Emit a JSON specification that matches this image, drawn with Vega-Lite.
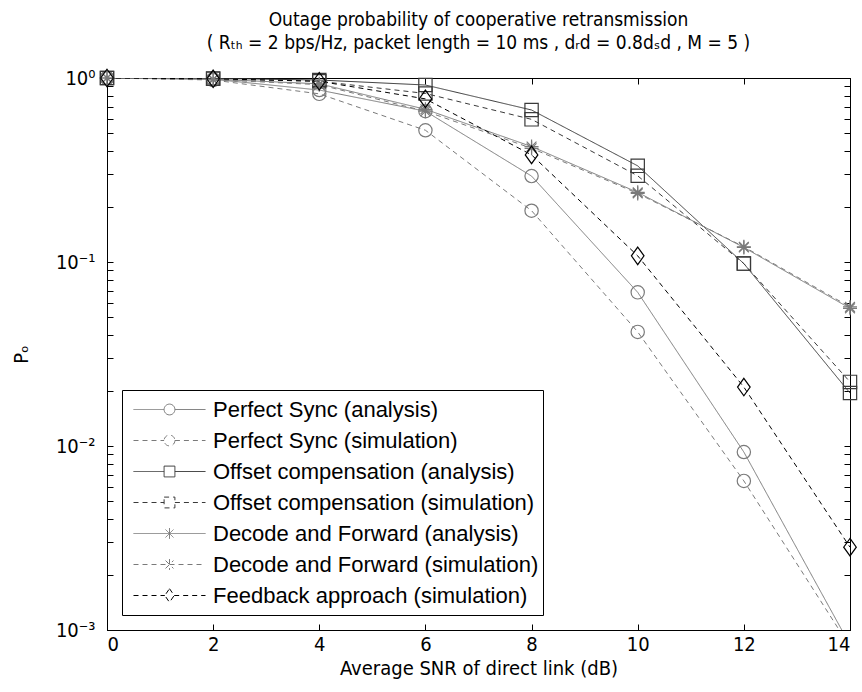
{
  "$schema": "https://vega.github.io/schema/vega-lite/v6.json",
  "width": 743,
  "height": 552,
  "autosize": "none",
  "padding": {"left": 107, "top": 78, "right": 12, "bottom": 62},
  "background": "white",
  "config": {
    "view": {"stroke": "black", "strokeWidth": 1},
    "font": "Liberation Sans Narrow, DejaVu Sans Condensed, Liberation Sans",
    "axis": {
      "grid": false,
      "domainColor": "black",
      "tickColor": "black",
      "labelColor": "black",
      "titleColor": "black",
      "labelFont": "Liberation Sans Narrow, DejaVu Sans Condensed, Liberation Sans",
      "titleFont": "Liberation Sans Narrow, DejaVu Sans Condensed, Liberation Sans",
      "labelFontSize": 20,
      "titleFontSize": 20,
      "titleFontWeight": "normal",
      "tickSize": -6,
      "tickWidth": 1
    }
  },
  "title": {
    "text": [
      "Outage probability of cooperative retransmission",
      "( Rₜₕ = 2 bps/Hz, packet length = 10 ms , dᵣd = 0.8dₛd , M = 5 )"
    ],
    "font": "Liberation Sans Narrow, DejaVu Sans Condensed, Liberation Sans",
    "fontSize": 19,
    "fontWeight": "normal",
    "color": "black",
    "lineHeight": 23,
    "offset": 14,
    "anchor": "middle"
  },
  "data": {
    "values": [
      {"snr": 0, "po": 1.0, "series": "Perfect Sync (analysis)"},
      {"snr": 2, "po": 0.985, "series": "Perfect Sync (analysis)"},
      {"snr": 4, "po": 0.86, "series": "Perfect Sync (analysis)"},
      {"snr": 6, "po": 0.66, "series": "Perfect Sync (analysis)"},
      {"snr": 8, "po": 0.293, "series": "Perfect Sync (analysis)"},
      {"snr": 10, "po": 0.0684, "series": "Perfect Sync (analysis)"},
      {"snr": 12, "po": 0.00927, "series": "Perfect Sync (analysis)"},
      {"snr": 14, "po": 0.00083, "series": "Perfect Sync (analysis)"},
      {"snr": 0, "po": 1.0, "series": "Perfect Sync (simulation)"},
      {"snr": 2, "po": 0.975, "series": "Perfect Sync (simulation)"},
      {"snr": 4, "po": 0.82, "series": "Perfect Sync (simulation)"},
      {"snr": 6, "po": 0.52, "series": "Perfect Sync (simulation)"},
      {"snr": 8, "po": 0.19, "series": "Perfect Sync (simulation)"},
      {"snr": 10, "po": 0.0417, "series": "Perfect Sync (simulation)"},
      {"snr": 12, "po": 0.00646, "series": "Perfect Sync (simulation)"},
      {"snr": 14, "po": 0.00081, "series": "Perfect Sync (simulation)"},
      {"snr": 0, "po": 1.0, "series": "Offset compensation (analysis)"},
      {"snr": 2, "po": 0.995, "series": "Offset compensation (analysis)"},
      {"snr": 4, "po": 0.975, "series": "Offset compensation (analysis)"},
      {"snr": 6, "po": 0.916, "series": "Offset compensation (analysis)"},
      {"snr": 8, "po": 0.67, "series": "Offset compensation (analysis)"},
      {"snr": 10, "po": 0.333, "series": "Offset compensation (analysis)"},
      {"snr": 12, "po": 0.098, "series": "Offset compensation (analysis)"},
      {"snr": 14, "po": 0.0194, "series": "Offset compensation (analysis)"},
      {"snr": 0, "po": 1.0, "series": "Offset compensation (simulation)"},
      {"snr": 2, "po": 0.99, "series": "Offset compensation (simulation)"},
      {"snr": 4, "po": 0.96, "series": "Offset compensation (simulation)"},
      {"snr": 6, "po": 0.824, "series": "Offset compensation (simulation)"},
      {"snr": 8, "po": 0.596, "series": "Offset compensation (simulation)"},
      {"snr": 10, "po": 0.294, "series": "Offset compensation (simulation)"},
      {"snr": 12, "po": 0.098, "series": "Offset compensation (simulation)"},
      {"snr": 14, "po": 0.0223, "series": "Offset compensation (simulation)"},
      {"snr": 0, "po": 1.0, "series": "Decode and Forward (analysis)"},
      {"snr": 2, "po": 0.985, "series": "Decode and Forward (analysis)"},
      {"snr": 4, "po": 0.93, "series": "Decode and Forward (analysis)"},
      {"snr": 6, "po": 0.676, "series": "Decode and Forward (analysis)"},
      {"snr": 8, "po": 0.424, "series": "Decode and Forward (analysis)"},
      {"snr": 10, "po": 0.239, "series": "Decode and Forward (analysis)"},
      {"snr": 12, "po": 0.12, "series": "Decode and Forward (analysis)"},
      {"snr": 14, "po": 0.056, "series": "Decode and Forward (analysis)"},
      {"snr": 0, "po": 1.0, "series": "Decode and Forward (simulation)"},
      {"snr": 2, "po": 0.98, "series": "Decode and Forward (simulation)"},
      {"snr": 4, "po": 0.92, "series": "Decode and Forward (simulation)"},
      {"snr": 6, "po": 0.66, "series": "Decode and Forward (simulation)"},
      {"snr": 8, "po": 0.415, "series": "Decode and Forward (simulation)"},
      {"snr": 10, "po": 0.236, "series": "Decode and Forward (simulation)"},
      {"snr": 12, "po": 0.121, "series": "Decode and Forward (simulation)"},
      {"snr": 14, "po": 0.057, "series": "Decode and Forward (simulation)"},
      {"snr": 0, "po": 1.0, "series": "Feedback approach (simulation)"},
      {"snr": 2, "po": 0.99, "series": "Feedback approach (simulation)"},
      {"snr": 4, "po": 0.96, "series": "Feedback approach (simulation)"},
      {"snr": 6, "po": 0.77, "series": "Feedback approach (simulation)"},
      {"snr": 8, "po": 0.382, "series": "Feedback approach (simulation)"},
      {"snr": 10, "po": 0.108, "series": "Feedback approach (simulation)"},
      {"snr": 12, "po": 0.0209, "series": "Feedback approach (simulation)"},
      {"snr": 14, "po": 0.00282, "series": "Feedback approach (simulation)"}
    ]
  },
  "layer": [
    {
      "mark": {"type": "line", "clip": true, "strokeWidth": 1},
      "encoding": {
        "x": {
          "field": "snr", "type": "quantitative",
          "scale": {"domain": [0, 14], "nice": false},
          "axis": {"orient": "bottom", "values": [0, 2, 4, 6, 8, 10, 12, 14], "title": "Average SNR of direct link (dB)", "labelPadding": 10, "titlePadding": 4}
        },
        "y": {
          "field": "po", "type": "quantitative",
          "scale": {"type": "log", "domain": [0.001, 1], "nice": false},
          "axis": {
            "orient": "left",
            "values": [0.001, 0.002, 0.003, 0.004, 0.005, 0.006, 0.007, 0.008, 0.009, 0.01, 0.02, 0.03, 0.04, 0.05, 0.06, 0.07, 0.08, 0.09, 0.1, 0.2, 0.3, 0.4, 0.5, 0.6, 0.7, 0.8, 0.9, 1],
            "labelExpr": "datum.value == 1 ? '10⁰' : datum.value == 0.1 ? '10⁻¹' : datum.value == 0.01 ? '10⁻²' : datum.value == 0.001 ? '10⁻³' : ''",
            "labelOverlap": false,
            "labelPadding": 18,
            "title": "Pₒ",
            "titlePadding": 24
          }
        },
        "color": {
          "field": "series", "type": "nominal",
          "scale": {
            "domain": ["Perfect Sync (analysis)", "Perfect Sync (simulation)", "Offset compensation (analysis)", "Offset compensation (simulation)", "Decode and Forward (analysis)", "Decode and Forward (simulation)", "Feedback approach (simulation)"],
            "range": ["#7a7a7a", "#7a7a7a", "#3a3a3a", "#3a3a3a", "#7a7a7a", "#7a7a7a", "#000000"]
          },
          "legend": null
        },
        "strokeDash": {
          "field": "series", "type": "nominal",
          "scale": {
            "domain": ["Perfect Sync (analysis)", "Perfect Sync (simulation)", "Offset compensation (analysis)", "Offset compensation (simulation)", "Decode and Forward (analysis)", "Decode and Forward (simulation)", "Feedback approach (simulation)"],
            "range": [[1, 0], [5, 4], [1, 0], [5, 4], [1, 0], [5, 4], [5, 4]]
          },
          "legend": null
        }
      }
    },
    {
      "transform": [{"filter": "datum.po >= 0.001"}],
      "mark": {"type": "point", "clip": false, "filled": false, "size": 196, "strokeWidth": 1.2, "opacity": 1},
      "encoding": {
        "x": {"field": "snr", "type": "quantitative", "axis": {"orient": "top", "values": [0, 2, 4, 6, 8, 10, 12, 14], "labels": false, "title": null}},
        "y": {
          "field": "po", "type": "quantitative",
          "axis": {"orient": "right", "values": [0.001, 0.002, 0.003, 0.004, 0.005, 0.006, 0.007, 0.008, 0.009, 0.01, 0.02, 0.03, 0.04, 0.05, 0.06, 0.07, 0.08, 0.09, 0.1, 0.2, 0.3, 0.4, 0.5, 0.6, 0.7, 0.8, 0.9, 1], "labels": false, "title": null}
        },
        "color": {
          "field": "series", "type": "nominal",
          "scale": {
            "domain": ["Perfect Sync (analysis)", "Perfect Sync (simulation)", "Offset compensation (analysis)", "Offset compensation (simulation)", "Decode and Forward (analysis)", "Decode and Forward (simulation)", "Feedback approach (simulation)"],
            "range": ["#7a7a7a", "#7a7a7a", "#3a3a3a", "#3a3a3a", "#7a7a7a", "#7a7a7a", "#000000"]
          },
          "legend": null
        },
        "shape": {
          "field": "series", "type": "nominal",
          "scale": {
            "domain": ["Perfect Sync (analysis)", "Perfect Sync (simulation)", "Offset compensation (analysis)", "Offset compensation (simulation)", "Decode and Forward (analysis)", "Decode and Forward (simulation)", "Feedback approach (simulation)"],
            "range": [
              "M0.95,0A0.95,0.95,0,1,1,-0.95,0A0.95,0.95,0,1,1,0.95,0Z",
              "M0.95,0A0.95,0.95,0,1,1,-0.95,0A0.95,0.95,0,1,1,0.95,0Z",
              "M-0.95,-0.95H0.95V0.95H-0.95Z",
              "M-0.95,-0.95H0.95V0.95H-0.95Z",
              "M0,-1L0,1M-1,0L1,0M-0.7,-0.7L0.7,0.7M-0.7,0.7L0.7,-0.7",
              "M0,-1L0,1M-1,0L1,0M-0.7,-0.7L0.7,0.7M-0.7,0.7L0.7,-0.7",
              "M0,-1.25L0.9,0L0,1.25L-0.9,0Z"
            ]
          },
          "legend": null
        }
      }
    },
    {
      "mark": {"type": "point", "clip": true, "filled": false, "opacity": 0},
      "encoding": {
        "x": {"field": "snr", "type": "quantitative", "axis": null},
        "y": {"field": "po", "type": "quantitative", "axis": null},
        "color": {
          "field": "series", "type": "nominal",
          "scale": {
            "domain": ["Perfect Sync (analysis)", "Perfect Sync (simulation)", "Offset compensation (analysis)", "Offset compensation (simulation)", "Decode and Forward (analysis)", "Decode and Forward (simulation)", "Feedback approach (simulation)"],
            "range": ["#7a7a7a", "#7a7a7a", "#3a3a3a", "#3a3a3a", "#7a7a7a", "#7a7a7a", "#000000"]
          },
          "legend": {
            "title": null,
            "orient": "none",
            "legendX": 15,
            "legendY": 312,
            "padding": 4,
            "symbolOffset": 7,
            "strokeColor": "black",
            "fillColor": "white",
            "symbolSize": 5184,
            "symbolOpacity": 1,
            "symbolStrokeWidth": 1,
            "symbolFillColor": "transparent",
            "clipHeight": 31,
            "rowPadding": 0,
            "labelOffset": 7,
            "labelFont": "Liberation Sans, Arial, sans-serif",
            "labelFontSize": 22,
            "labelColor": "black",
            "labelLimit": 400
          }
        },
        "shape": {
          "field": "series", "type": "nominal",
          "scale": {
            "domain": ["Perfect Sync (analysis)", "Perfect Sync (simulation)", "Offset compensation (analysis)", "Offset compensation (simulation)", "Decode and Forward (analysis)", "Decode and Forward (simulation)", "Feedback approach (simulation)"],
            "range": [
              "M-1,0L-0.15,0M0.15,0A0.15,0.15,0,1,1,-0.15,0A0.15,0.15,0,1,1,0.15,0M0.15,0L1,0",
              "M-1,0L-0.15,0M0.15,0A0.15,0.15,0,1,1,-0.15,0A0.15,0.15,0,1,1,0.15,0M0.15,0L1,0",
              "M-1,0L-0.15,0M-0.15,-0.15H0.15V0.15H-0.15ZM0.15,0L1,0",
              "M-1,0L-0.15,0M-0.15,-0.15H0.15V0.15H-0.15ZM0.15,0L1,0",
              "M-1,0L1,0M0,-0.15L0,0.15M-0.11,-0.11L0.11,0.11M-0.11,0.11L0.11,-0.11",
              "M-1,0L1,0M0,-0.15L0,0.15M-0.11,-0.11L0.11,0.11M-0.11,0.11L0.11,-0.11",
              "M-1,0L-0.13,0M0,-0.19L0.13,0L0,0.19L-0.13,0ZM0.13,0L1,0"
            ]
          }
        },
        "strokeDash": {
          "field": "series", "type": "nominal",
          "scale": {
            "domain": ["Perfect Sync (analysis)", "Perfect Sync (simulation)", "Offset compensation (analysis)", "Offset compensation (simulation)", "Decode and Forward (analysis)", "Decode and Forward (simulation)", "Feedback approach (simulation)"],
            "range": [[1, 0], [5, 4], [1, 0], [5, 4], [1, 0], [5, 4], [5, 4]]
          }
        }
      }
    }
  ],
  "resolve": {
    "scale": {"color": "independent", "shape": "independent", "strokeDash": "independent"},
    "axis": {"x": "independent", "y": "independent"}
  }
}
